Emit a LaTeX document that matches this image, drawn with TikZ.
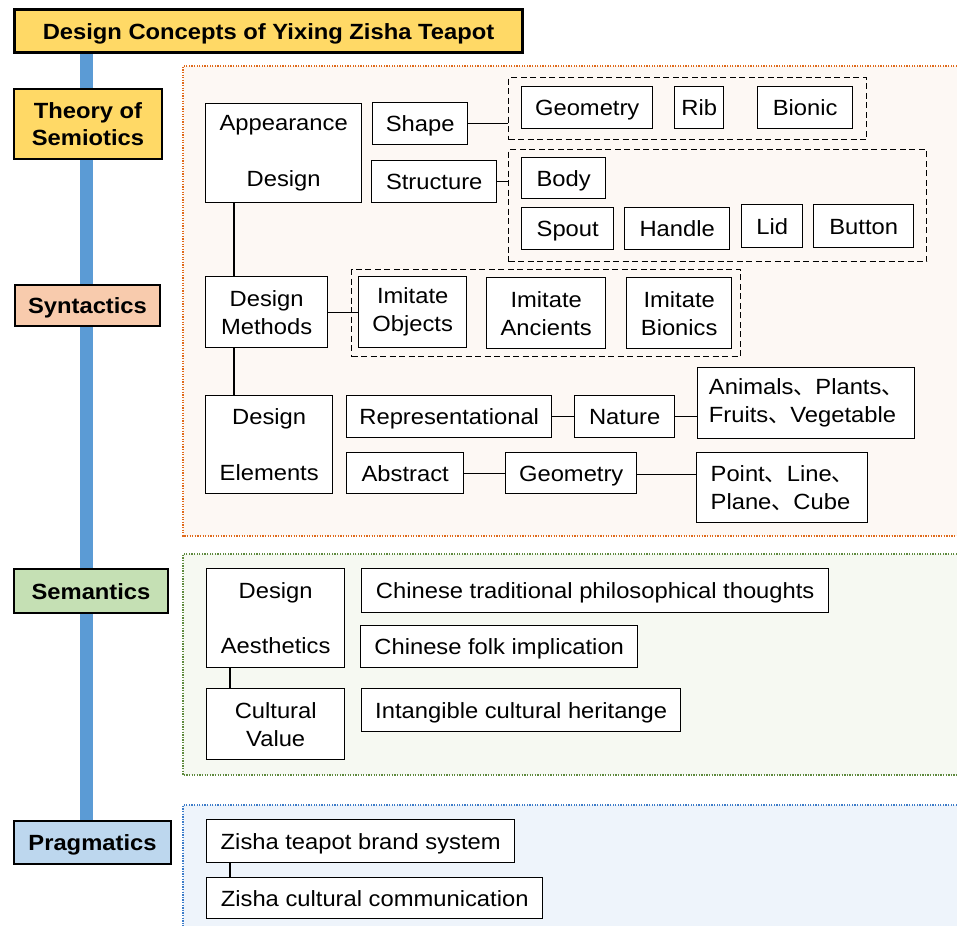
\documentclass[tikz,border=0pt]{standalone}
\usepackage{fontspec}
\setmainfont[FakeStretch=1.08]{Liberation Sans}
\newfontfamily\cjk{Noto Sans CJK SC}
\newcommand{\dun}{{\cjk 、}}
\usetikzlibrary{calc}

\definecolor{titleyellow}{HTML}{FFD966}
\definecolor{syntpeach}{HTML}{F8CBAD}
\definecolor{semgreen}{HTML}{C5E0B4}
\definecolor{pragblue}{HTML}{BDD7EE}
\definecolor{barblue}{HTML}{5B9BD5}
\definecolor{orangeline}{HTML}{E06A1B}
\definecolor{orangefill}{HTML}{FDF8F4}
\definecolor{greenline}{HTML}{5E8A3E}
\definecolor{greenfill}{HTML}{F6F9F2}
\definecolor{blueline}{HTML}{3D7CC9}
\definecolor{bluefill}{HTML}{EEF4FB}

\tikzset{
  txt/.style={font=\fontsize{22}{28}\selectfont},
  box/.style={txt, draw=black, fill=white, line width=1.4pt, inner sep=0pt,
              anchor=north west, align=center},
  sbox/.style={box, text height=16pt, text depth=0pt},
  lbox/.style={box, align=left},
  dbox/.style={draw=black, line width=1.4pt, dash pattern=on 6pt off 3.5pt,
               inner sep=0pt, anchor=north west},
  head/.style={draw=black, line width=2pt, inner sep=0pt, anchor=north west,
               align=center, font=\fontsize{22}{27}\selectfont\bfseries},
  shead/.style={head, text height=16pt, text depth=0pt},
  conn/.style={draw=black, line width=1.4pt},
  region/.style={line width=1.6pt, dash pattern=on 1.3pt off 1.3pt},
}

\begin{document}
\begin{tikzpicture}[x=1pt,y=-1pt]
\useasboundingbox (0,0) rectangle (957,926);

% dotted background regions
\fill[orangefill] (183,66) rectangle (957,536);
\draw[region, orangeline] (957,66) -- (183,66) -- (183,536) -- (957,536);
\fill[greenfill] (183,554) rectangle (957,775);
\draw[region, greenline] (957,554) -- (183,554) -- (183,775) -- (957,775);
\fill[bluefill] (183,805) rectangle (957,926);
\draw[region, blueline] (957,805) -- (183,805) -- (183,926);

% left column
\coordinate (bartop) at (86,50);
\node[shead, fill=pragblue, minimum width=157pt, minimum height=43pt] (prag) at (13,820) {Pragmatics};
\draw[barblue, line width=13pt] (bartop) -- (bartop |- prag.north);
\node[shead, line width=3pt, fill=titleyellow, minimum width=508pt, minimum height=43pt] (title) at (13,8) {Design Concepts of Yixing Zisha Teapot};
\node[head, fill=titleyellow, minimum width=148pt, minimum height=70pt] (theory) at (13,88) {Theory of\\Semiotics};
\node[shead, fill=syntpeach, minimum width=145pt, minimum height=41pt] (synt) at (14,284) {Syntactics};
\node[shead, fill=semgreen, minimum width=154pt, minimum height=44pt] (sem) at (13,568) {Semantics};

% syntactics: appearance design
\node[box, minimum width=156pt, minimum height=99pt] (app) at (205,103) {Appearance\\[28pt]Design};
\node[sbox, minimum width=95pt, minimum height=42pt] (shape) at (372,102) {Shape};
\node[sbox, minimum width=125pt, minimum height=42pt] (struct) at (371,160) {Structure};
\node[dbox, minimum width=358pt, minimum height=62pt] (grpshape) at (508,77) {};
\node[sbox, minimum width=131pt, minimum height=42pt] (geoA) at (521,86) {Geometry};
\node[sbox, minimum width=49pt, minimum height=42pt] (rib) at (674,86) {Rib};
\node[sbox, minimum width=95pt, minimum height=42pt] (bionic) at (757,86) {Bionic};
\node[dbox, minimum width=418pt, minimum height=112pt] (grpstruct) at (508,149) {};
\node[sbox, minimum width=84pt, minimum height=41pt] (body) at (521,157) {Body};
\node[sbox, minimum width=92pt, minimum height=42pt] (spout) at (521,207) {Spout};
\node[sbox, minimum width=105pt, minimum height=42pt] (handle) at (624,207) {Handle};
\node[sbox, minimum width=61pt, minimum height=43pt] (lid) at (741,204) {Lid};
\node[sbox, minimum width=100pt, minimum height=43pt] (button) at (813,204) {Button};

% syntactics: design methods
\node[box, minimum width=122pt, minimum height=71pt] (meth) at (205,276) {Design\\Methods};
\node[dbox, minimum width=389pt, minimum height=87pt] (grpmeth) at (351,269) {};
\node[box, minimum width=108pt, minimum height=71pt] (iobj) at (358,276) {Imitate\\Objects};
\node[box, minimum width=119pt, minimum height=71pt] (ianc) at (486,277) {Imitate\\Ancients};
\node[box, minimum width=105pt, minimum height=71pt] (ibio) at (626,277) {Imitate\\Bionics};

% syntactics: design elements
\node[box, minimum width=127pt, minimum height=98pt] (elem) at (205,395) {Design\\[28pt]Elements};
\node[sbox, minimum width=205pt, minimum height=42pt] (rep) at (346,395) {Representational};
\node[sbox, minimum width=100pt, minimum height=42pt] (nat) at (574,395) {Nature};
\node[lbox, minimum width=217pt, minimum height=71pt] (anim) at (697,367) {Animals\dun Plants\dun\\Fruits\dun Vegetable};
\node[sbox, minimum width=117pt, minimum height=41pt] (abs) at (346,452) {Abstract};
\node[sbox, minimum width=131pt, minimum height=41pt] (geoB) at (505,452) {Geometry};
\node[lbox, minimum width=171pt, minimum height=70pt] (point) at (696,452) {Point\dun Line\dun\\Plane\dun Cube};

% semantics
\node[box, minimum width=138pt, minimum height=99pt] (aest) at (206,568) {Design\\[27pt]Aesthetics};
\node[sbox, minimum width=467pt, minimum height=44pt] (ctrad) at (361,568) {Chinese traditional philosophical thoughts};
\node[sbox, minimum width=277pt, minimum height=42pt] (cfolk) at (360,625) {Chinese folk implication};
\node[box, minimum width=138pt, minimum height=71pt] (cval) at (206,688) {Cultural\\Value};
\node[sbox, minimum width=319pt, minimum height=43pt] (intang) at (361,688) {Intangible cultural heritange};

% pragmatics
\node[sbox, minimum width=308pt, minimum height=43pt] (brand) at (206,819) {Zisha teapot brand system};
\node[sbox, minimum width=336pt, minimum height=41pt] (comm) at (206,877) {Zisha cultural communication};

% connectors
\draw[conn] ([xshift=29pt]app.south west) -- ([xshift=29pt]meth.north west);
\draw[conn] ([xshift=29pt]meth.south west) -- ([xshift=29pt]elem.north west);
\draw[conn] (shape.east) -- (shape.east -| grpshape.west);
\draw[conn] (struct.east) -- (struct.east -| grpstruct.west);
\draw[conn] (meth.east) -- (meth.east -| iobj.west);
\draw[conn] (rep.east) -- (nat.west);
\draw[conn] (nat.east) -- (nat.east -| anim.west);
\draw[conn] (abs.east) -- (geoB.west);
\draw[conn] ([yshift=-1pt]geoB.east) -- ([yshift=-1pt]geoB.east -| point.west);
\draw[conn] ([xshift=24pt]aest.south west) -- ([xshift=24pt]cval.north west);
\draw[conn] ([xshift=24pt]brand.south west) -- ([xshift=24pt]comm.north west);
\end{tikzpicture}
\end{document}
